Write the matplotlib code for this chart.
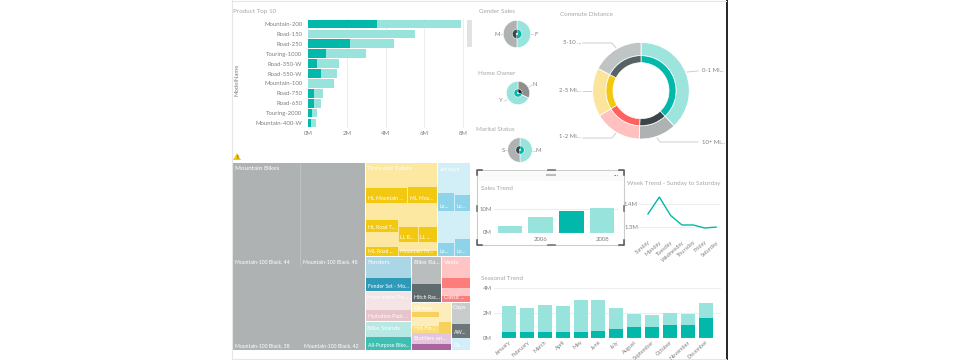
import numpy as np
import matplotlib
matplotlib.use('Agg')
import matplotlib.pyplot as plt
from matplotlib.patches import Rectangle, Polygon

plt.rcParams['font.family'] = ['Lato', 'DejaVu Sans']

W, H = 960, 360

models = ['Mountain-200', 'Road-150', 'Road-250', 'Touring-1000', 'Road-350-W', 'Road-550-W',
          'Mountain-100', 'Road-750', 'Road-650', 'Touring-2000', 'Mountain-400-W']
model_dark = [3.58, 0.0, 2.19, 0.91, 0.46, 0.65, 0.0, 0.29, 0.29, 0.22, 0.14]
model_total = [7.88, 5.54, 4.44, 2.98, 1.58, 1.51, 1.34, 0.79, 0.65, 0.46, 0.43]

gender_labels = ['F', 'M']
gender_outer = [50, 50]
gender_inner = [52, 48]
owner_labels = ['N', 'Y']
owner_outer = [32, 68]
owner_inner = [30, 70]
marital_labels = ['M', 'S']
marital_outer = [50, 50]
marital_inner = [52, 48]

commute_labels = ['0-1 Mi...', '10+ Mi...', '1-2 Mi...', '2-5 Mi...', '5-10 ...']
commute_values = [38, 12.6, 15.8, 16.2, 17.4]

years = ['', '2006', '', '2008']
year_sales = [2.9, 6.5, 9.0, 10.3]

days = ['Sunday', 'Monday', 'Tuesday', 'Wednesday', 'Thursday', 'Friday', 'Saturday']
day_sales = [1.357, 1.43, 1.35, 1.309, 1.309, 1.296, 1.3]

months = ['January', 'February', 'March', 'April', 'May', 'June', 'July', 'August',
          'September', 'October', 'November', 'December']
month_dark = [0.48, 0.45, 0.52, 0.48, 0.48, 0.55, 0.73, 0.85, 0.9, 1.07, 1.07, 1.6]
month_total = [2.55, 2.38, 2.65, 2.55, 3.05, 3.02, 2.42, 1.9, 1.85, 2.02, 1.95, 2.77]

# treemap cells: x0, y0, x1, y1 in pixels, colour, label
treemap_cells = [
    (233, 163, 365, 350, '#BDC0C1', ''),
    (233, 163, 300, 266.5, '#AEB2B3', ''), (300.7, 163, 365, 266.5, '#AEB2B3', ''),
    (233, 267, 301.5, 350, '#AEB2B3', ''), (302.2, 267, 365, 350, '#AEB2B3', ''),
    (365.5, 163, 437, 256, '#FCE8A0', ''),
    (365.5, 188, 407, 203, '#F2C811', 'HL Mountain ...'), (407.5, 187, 437, 203, '#F2C811', 'ML Mou...'),
    (365.5, 220, 398, 232, '#F2C811', 'HL Road T...'), (398.5, 227, 418, 242, '#F2C811', 'LL R...'),
    (418.5, 227, 437, 242, '#F2C811', 'LL ...'),
    (365.5, 247, 398, 256, '#F2C811', 'ML Road ...'), (398.5, 251, 437, 256, '#F2C811', 'Mountain Tir...'),
    (437.7, 163, 470, 256, '#D2EEF7', ''),
    (437.7, 193, 454, 211, '#8DD3EA', 'Lo...'), (454.5, 195, 470, 211, '#8DD3EA', 'Lo...'),
    (437.7, 243, 454, 256, '#8DD3EA', 'Lo...'), (454.5, 239, 470, 256, '#8DD3EA', 'Lo...'),
    (365.5, 257, 411, 291, '#ABD6E6', ''), (365.5, 278, 411, 291, '#2F9AB8', 'Fender Set - Mo...'),
    (412, 257, 441, 284, '#B9BDBE', ''), (412, 284, 441, 302, '#5F6B6D', 'Hitch Rac...'),
    (442, 257, 470, 302, '#FFC4C4', ''), (442, 278, 470, 288, '#FD7C7C', ''),
    (442, 296, 470, 302, '#FD7C7C', 'Classic ...'),
    (365.5, 291.5, 411, 310, '#F4E4E6', ''), (365.5, 310, 411, 321, '#E6C4C9', 'Hydration Pack ...'),
    (365.5, 322, 411, 337, '#B8E8E3', ''), (365.5, 337, 411, 350, '#3FBFB2', 'All-Purpose Bike...'),
    (412, 302.5, 451, 332.5, '#FDEDBC', ''), (412, 312, 439, 317, '#F6D25C', ''),
    (439, 322, 451, 332.5, '#F6D25C', ''), (412, 326, 439, 332.5, '#F9DC7C', 'Half-Fin...'),
    (451.5, 302.5, 470, 324, '#C8CCCD', ''), (451.5, 324, 470, 337.5, '#6D7779', 'AW...'),
    (412, 333, 451, 344, '#E3C6DE', ''), (412, 344, 451, 350, '#A9659F', ''),
    (451.5, 338, 470, 350, '#D2EEF7', 'Cle...'),
]
treemap_titles = [
    (235, 169, 'Mountain Bikes'), (367, 169, 'Tires and Tubes'), (440, 169, 'Jerseys'),
    (367, 263, 'Fenders'), (414, 263, 'Bike Ra...'), (444, 263, 'Vests'),
    (367, 297, 'Hydration Pa...'), (414, 308, 'Gloves'), (453, 308, 'Caps'),
    (367, 328, 'Bike Stands'), (414, 339, 'Bottles an...'),
]
treemap_foot = [
    (235, 262, 'Mountain-100 Black, 44'), (303, 262, 'Mountain-100 Black, 48'),
    (235, 346, 'Mountain-100 Black, 38'), (304, 346, 'Mountain-100 Black, 42'),
]

TEAL = '#01B8AA'
LIGHT = '#98E3DC'
GREY = '#808080'
TITLE = '#A6A6A6'
TICK = 4.3
SLANT = 4.0
HEAD = 4.5

fig = plt.figure(figsize=(W / 100, H / 100), dpi=100, facecolor='white')


def box(x0, y0, x1, y1):
    return fig.add_axes([x0 / W, 1 - y1 / H, (x1 - x0) / W, (y1 - y0) / H])


bg = box(0, 0, W, H)
bg.set_xlim(0, W)
bg.set_ylim(H, 0)
bg.axis('off')


def clean(ax):
    for s in ax.spines.values():
        s.set_visible(False)
    ax.tick_params(length=0, labelsize=TICK, labelcolor=GREY)
    ax.set_axisbelow(True)
    ax.patch.set_alpha(0)


# frame of the report page
bg.plot([232, 232], [0, 360], color='#E6E6E6', lw=0.8)
bg.plot([232, 726], [0.5, 0.5], color='#E6E6E6', lw=0.8)
bg.plot([232, 726], [359, 359], color='#E6E6E6', lw=0.8)
bg.add_patch(Rectangle((726, 0), 2, 360, color='#2A2A2A', lw=0))
bg.add_patch(Rectangle((467, 20), 5, 27, color='#E2E2E2', lw=0))

# warning sign
bg.add_patch(Polygon([(233, 160), (237, 153), (241, 160)], color='#F2C811', lw=0))
bg.text(237, 160, '!', fontsize=4.5, color='#333333', ha='center', va='bottom')

# product bars
ax = box(308, 19, 464, 128)
y = np.arange(len(models))
ax.barh(y, model_total, height=0.88, color=LIGHT)
ax.barh(y, model_dark, height=0.88, color=TEAL)
ax.set_ylim(len(models) - 0.5, -0.5)
ax.set_xlim(0, 8.05)
ax.set_yticks(y, models)
ax.set_xticks([0, 2, 4, 6, 8], ['0M', '2M', '4M', '6M', '8M'])
ax.xaxis.grid(True, color='#EEEEEE', lw=0.8)
clean(ax)
ax.tick_params(axis='y', pad=4)
ax.tick_params(axis='x', pad=2.5)
bg.text(233, 13, 'Product Top 10', fontsize=HEAD, color=TITLE, va='baseline')
bg.text(237, 80, 'ModelName', fontsize=TICK, color=GREY, rotation=90, ha='center', va='center')


def double_ring(cx, cy, r, outer, inner, colours_o, colours_i, start):
    size = 2 * r + 2
    a = box(cx - size / 2, cy - size / 2, cx + size / 2, cy + size / 2)
    a.pie(outer, radius=1.0, startangle=start, counterclock=False, colors=colours_o,
          wedgeprops=dict(width=0.66, edgecolor='white', linewidth=0.4))
    a.pie(inner, radius=0.34, startangle=start, counterclock=False, colors=colours_i,
          wedgeprops=dict(width=0.27, edgecolor='white', linewidth=0.2))
    a.set_xlim(-size / 2 / r, size / 2 / r)
    a.set_ylim(-size / 2 / r, size / 2 / r)
    a.patch.set_alpha(0)


double_ring(517, 34, 13.7, gender_outer, gender_inner, [LIGHT, '#AEB2B3'], [TEAL, '#3C4648'], 90)
double_ring(518, 93, 11.7, owner_outer, owner_inner, ['#8F8F8F', LIGHT], ['#1E1E1E', TEAL], 90)
double_ring(520, 150, 12.3, marital_outer, marital_inner, [LIGHT, '#AEB2B3'], [TEAL, '#3C4648'], 90)

small_texts = [
    (479, 13, 'Gender Sales'), (478, 75, 'Home Owner'), (476, 131, 'Marital Status'),
]
for sx, sy, st in small_texts:
    bg.text(sx, sy, st, fontsize=HEAD, color=TITLE, va='baseline')
for sx, sy, st in [(497, 34, gender_labels[1]), (536, 34, gender_labels[0]),
                   (535, 85, owner_labels[0]), (501, 101, owner_labels[1]),
                   (503, 150, marital_labels[1]), (538, 151, marital_labels[0])]:
    bg.text(sx, sy, st, fontsize=TICK, color=GREY, ha='center', va='center')
for pts in [[(500, 34), (503, 34)], [(531, 34), (533, 34)], [(528, 88), (532, 85)],
            [(504, 101), (507, 100)], [(505, 150), (507, 150)], [(532, 151), (535, 151)]]:
    bg.plot(*zip(*pts), color='#CFCFCF', lw=0.6)

# commute rings
ca = box(641 - 49.3, 90.7 - 49.3, 641 + 49.3, 90.7 + 49.3)
ca.pie(commute_values, radius=1.0, startangle=90, counterclock=False,
       colors=['#9DE4DD', '#AEB2B3', '#FFC0C0', '#FBE49C', '#BFC4C5'],
       wedgeprops=dict(width=0.275, edgecolor='white', linewidth=0.6))
ca.pie(commute_values, radius=0.725, startangle=90, counterclock=False,
       colors=[TEAL, '#3C4648', '#FD625E', '#F2C811', '#566264'],
       wedgeprops=dict(width=0.145, edgecolor='white', linewidth=0.5))
ca.set_xlim(-1.02, 1.02)
ca.set_ylim(-1.02, 1.02)
ca.patch.set_alpha(0)
bg.text(560, 16, 'Commute Distance', fontsize=HEAD, color=TITLE, va='baseline')
for pts in [[(583, 43), (612, 43), (616, 48)], [(583, 91), (592, 91)], [(583, 138), (612, 138), (616, 133)],
            [(687, 72), (698, 71)], [(657, 138), (660, 142), (698, 142)]]:
    bg.plot(*zip(*pts), color='#CFCFCF', lw=0.7)
bg.text(563, 43, commute_labels[4], fontsize=TICK, color=GREY, va='center')
bg.text(559, 91, commute_labels[3], fontsize=TICK, color=GREY, va='center')
bg.text(559, 137, commute_labels[2], fontsize=TICK, color=GREY, va='center')
bg.text(702, 71, commute_labels[0], fontsize=TICK, color=GREY, va='center')
bg.text(702, 142, commute_labels[1], fontsize=TICK, color=GREY, va='center')

# treemap
for x0, y0, x1, y1, c, lab in treemap_cells:
    cell = Rectangle((x0, y0), x1 - x0, y1 - y0, facecolor=c, edgecolor='none', lw=0)
    bg.add_patch(cell)
    if lab:
        t = bg.text(x0 + 2, y1 - 3, lab, fontsize=3.7, color='white', va='baseline')
        t.set_clip_path(cell)
for tx, ty, t in treemap_titles:
    bg.text(tx, ty, t, fontsize=4.6, color='white', va='center')
for tx, ty, t in treemap_foot:
    bg.text(tx, ty, t, fontsize=3.7, color='white', va='center')

# sales trend, selected visual
bg.add_patch(Rectangle((477, 170), 147, 75, facecolor='white', edgecolor='#CCCCCC', lw=0.8))
bg.add_patch(Rectangle((477.5, 170.5), 146, 10, facecolor='#FAFAFA', edgecolor='none', lw=0))
for px, py, dx, dy in [(477, 170, 1, 1), (624, 170, -1, 1), (477, 245, 1, -1), (624, 245, -1, -1)]:
    bg.plot([px + 5 * dx, px, px], [py, py, py + 5 * dy], color='#555555', lw=1.1)
bg.plot([548, 555], [170, 170], color='#777777', lw=1.2)
bg.plot([548, 555], [245, 245], color='#777777', lw=1.2)
bg.plot([477, 477], [206, 211], color='#777777', lw=1.2)
bg.plot([624, 624], [206, 211], color='#777777', lw=1.2)
bg.plot([547, 555], [175, 175], color='#BBBBBB', lw=1.5)
bg.text(616, 174, '...', fontsize=5.5, color='#777777', ha='center', va='center')
bg.text(481, 190, 'Sales Trend', fontsize=HEAD, color=TITLE, va='baseline')

sa = box(494, 200, 618, 232.5)
sa.bar(range(4), year_sales, width=0.8, color=[LIGHT, LIGHT, TEAL, LIGHT])
sa.set_xlim(-0.52, 3.52)
sa.set_ylim(0, 13.8)
sa.set_yticks([0, 10], ['0M', '10M'])
sa.set_xticks(range(4), years)
sa.yaxis.grid(True, color='#EEEEEE', lw=0.8)
clean(sa)
sa.tick_params(axis='y', pad=1.5)
sa.tick_params(axis='x', pad=3.5)
sa.axhline(0, color='#E8E8E8', lw=0.8)

# week trend
bg.text(627, 185, 'Week Trend - Sunday to Saturday', fontsize=HEAD, color=TITLE, va='baseline')
wa = box(638, 192, 720, 234)
wa.plot(range(7), day_sales, color=TEAL, lw=1.0)
wa.set_xlim(-0.88, 6.35)
wa.set_ylim(1.27, 1.452)
wa.set_yticks([1.3, 1.4], ['1.3M', '1.4M'])
wa.set_xticks(range(7), days, rotation=42, ha='right', rotation_mode='anchor')
wa.yaxis.grid(True, color='#EEEEEE', lw=0.8)
clean(wa)
wa.tick_params(axis='y', pad=0)
wa.tick_params(axis='x', pad=4, labelsize=SLANT)

# seasonal trend
bg.text(481, 280, 'Seasonal Trend', fontsize=HEAD, color=TITLE, va='baseline')
ma = box(494, 288, 721, 338)
x = np.arange(len(months))
ma.bar(x, month_total, width=0.78, color=LIGHT)
ma.bar(x, month_dark, width=0.78, color=TEAL)
ma.set_xlim(-0.84, 11.85)
ma.set_ylim(0, 4)
ma.set_yticks([0, 2, 4], ['0M', '2M', '4M'])
ma.set_xticks(x, months, rotation=42, ha='right', rotation_mode='anchor')
ma.yaxis.grid(True, color='#EEEEEE', lw=0.8)
clean(ma)
ma.tick_params(axis='y', pad=1.5)
ma.tick_params(axis='x', pad=1, labelsize=SLANT)
ma.axhline(0, color='#E0E0E0', lw=0.8)

fig.savefig('out.png', dpi=100)
